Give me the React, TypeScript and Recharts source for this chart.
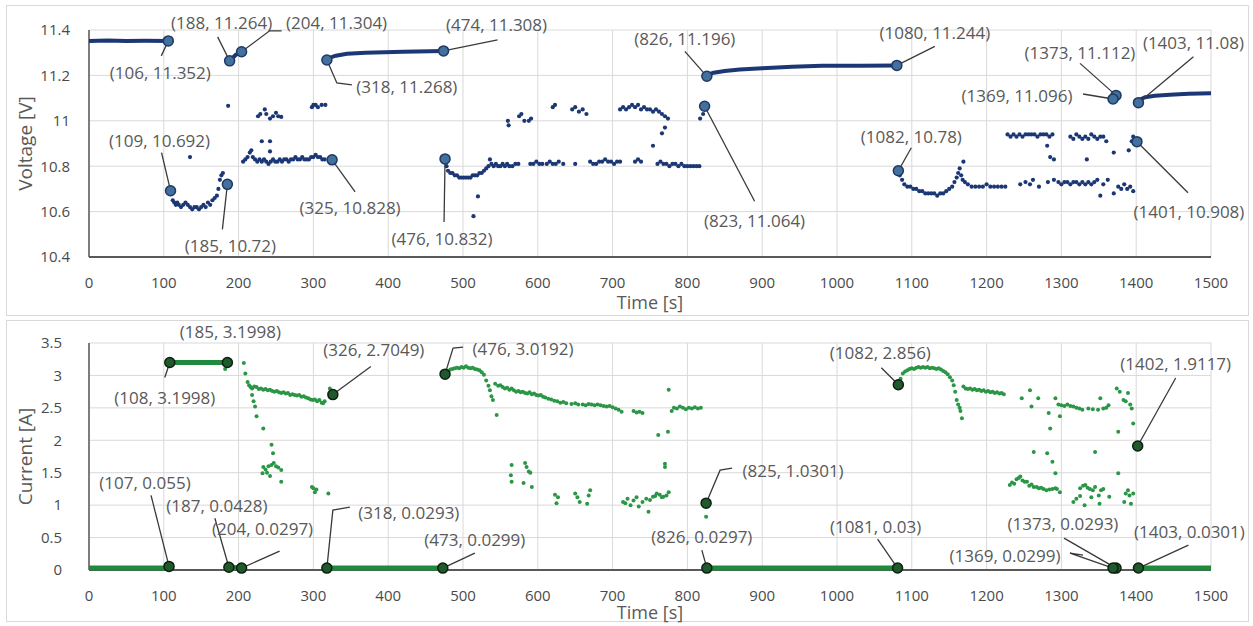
import React from 'react';
import { ScatterChart, Scatter, XAxis, YAxis, CartesianGrid } from 'recharts';

// ---------- ticks ----------
const TIME_TICKS = [0, 100, 200, 300, 400, 500, 600, 700, 800, 900, 1000, 1100, 1200, 1300, 1400, 1500];
const VOLT_TICKS = [10.4, 10.6, 10.8, 11, 11.2, 11.4];
const CURR_TICKS = [0, 0.5, 1, 1.5, 2, 2.5, 3, 3.5];

// ---------- voltage: rest (no-load) segments [t, V] ----------
const V_REST_A = [[0, 11.352], [25, 11.354], [50, 11.352], [75, 11.353], [106, 11.352]];
const V_REST_B = [[188, 11.264], [196, 11.29], [204, 11.304]];
const V_REST_C = [[318, 11.268], [322, 11.278], [330, 11.287], [345, 11.295], [370, 11.3], [420, 11.304], [474, 11.308]];
const V_REST_D = [[826, 11.196], [829, 11.205], [835, 11.212], [850, 11.219], [870, 11.226], [900, 11.232], [940, 11.238], [980, 11.242], [1030, 11.243], [1080, 11.244]];
const V_REST_E = [[1369, 11.096], [1373, 11.112]];
const V_REST_F = [[1403, 11.08], [1406, 11.095], [1412, 11.104], [1425, 11.11], [1445, 11.115], [1470, 11.119], [1500, 11.121]];

// ---------- voltage: load samples [t, V] ----------
const V_LOAD_1 = [
  [110, 10.68], [112, 10.65], [114, 10.64], [116, 10.63], [118, 10.64], [120, 10.63], [123, 10.62], [126, 10.63],
  [129, 10.64], [132, 10.63], [135, 10.62], [138, 10.61], [141, 10.62], [144, 10.62], [147, 10.61], [150, 10.62],
  [153, 10.63], [156, 10.62], [159, 10.64], [162, 10.63], [165, 10.65], [168, 10.66], [171, 10.67], [173, 10.7],
  [175, 10.74], [177, 10.76], [179, 10.77], [135, 10.84],
];
const V_LOAD_2 = [
  [206, 10.82], [209, 10.83], [212, 10.84], [215, 10.86], [217, 10.87], [219, 10.84], [222, 10.83], [225, 10.82],
  [228, 10.83], [231, 10.82], [234, 10.83], [237, 10.82], [240, 10.81], [243, 10.82], [246, 10.83], [249, 10.82],
  [252, 10.82], [255, 10.83], [258, 10.82], [261, 10.83], [264, 10.83], [267, 10.82], [270, 10.83], [273, 10.83],
  [276, 10.84], [279, 10.83], [282, 10.83], [285, 10.84], [288, 10.83], [291, 10.83], [294, 10.83], [297, 10.84],
  [300, 10.84], [303, 10.85], [306, 10.84], [309, 10.84], [312, 10.83], [315, 10.83],
  [186, 11.066], [226, 11.02], [229, 11.03], [235, 11.05], [237, 11.03], [242, 11.01], [246, 11.02], [250, 11.035],
  [253, 11.02], [257, 11.017], [231, 10.91], [242, 10.91], [242, 10.865],
  [298, 11.06], [300, 11.07], [303, 11.07], [306, 11.06], [311, 11.07], [316, 11.07],
];
const V_LOAD_3 = [
  [478, 10.8], [480, 10.78], [483, 10.77], [486, 10.77], [489, 10.76], [492, 10.76], [495, 10.75], [498, 10.75],
  [501, 10.75], [504, 10.75], [507, 10.75], [510, 10.75], [513, 10.76], [516, 10.76], [519, 10.76], [522, 10.77],
  [525, 10.77], [528, 10.78], [531, 10.79], [534, 10.8], [536, 10.83], [538, 10.81], [541, 10.8], [544, 10.81],
  [547, 10.8], [550, 10.8], [553, 10.81], [556, 10.8], [559, 10.81], [562, 10.8], [566, 10.8], [570, 10.81],
  [574, 10.81], [590, 10.81], [594, 10.81], [598, 10.82], [602, 10.81], [606, 10.81], [612, 10.81], [616, 10.82],
  [620, 10.81], [624, 10.81], [628, 10.82], [634, 10.81], [650, 10.81], [670, 10.82], [674, 10.81], [678, 10.81],
  [682, 10.82], [686, 10.82], [690, 10.83], [694, 10.82], [698, 10.82], [702, 10.81], [706, 10.82], [710, 10.82],
  [730, 10.82], [734, 10.83], [738, 10.82], [760, 10.81], [764, 10.82], [768, 10.81], [772, 10.81], [776, 10.8],
  [780, 10.81], [784, 10.81], [788, 10.8], [792, 10.81], [796, 10.8], [800, 10.8], [804, 10.8], [808, 10.8],
  [812, 10.8], [816, 10.8],
  [560, 11.0], [561, 10.98], [575, 11.02], [578, 11.03], [582, 11.0], [588, 11.0], [591, 11.01], [620, 11.06],
  [623, 11.07], [646, 11.05], [650, 11.06], [655, 11.04], [660, 11.05], [665, 11.03], [710, 11.05], [714, 11.06],
  [718, 11.05], [722, 11.06], [726, 11.07], [730, 11.06], [734, 11.07], [738, 11.05], [742, 11.06], [746, 11.05],
  [750, 11.05], [754, 11.04], [758, 11.05], [762, 11.04], [766, 11.03], [770, 11.02], [774, 11.01], [770, 10.97],
  [766, 10.945], [754, 10.89], [520, 10.667], [514, 10.58], [817, 11.01], [821, 11.03],
];
const V_LOAD_4 = [
  [1084, 10.76], [1087, 10.74], [1090, 10.72], [1094, 10.71], [1098, 10.71], [1102, 10.7], [1106, 10.7], [1110, 10.69],
  [1114, 10.69], [1118, 10.68], [1122, 10.68], [1126, 10.68], [1130, 10.68], [1134, 10.67], [1138, 10.68], [1142, 10.68],
  [1146, 10.69], [1150, 10.7], [1154, 10.71], [1157, 10.73], [1160, 10.75], [1162, 10.77], [1164, 10.79], [1166, 10.76],
  [1168, 10.74], [1171, 10.73], [1175, 10.72], [1180, 10.71], [1185, 10.71], [1190, 10.71], [1195, 10.71], [1200, 10.72],
  [1205, 10.71], [1210, 10.71], [1215, 10.71], [1220, 10.71], [1225, 10.71], [1245, 10.72], [1252, 10.73], [1258, 10.72],
  [1262, 10.74], [1270, 10.71], [1282, 10.73], [1290, 10.74], [1296, 10.73], [1300, 10.72], [1304, 10.73], [1308, 10.73],
  [1312, 10.72], [1316, 10.73], [1320, 10.73], [1324, 10.72], [1328, 10.73], [1332, 10.72], [1336, 10.73], [1340, 10.72],
  [1344, 10.73], [1348, 10.74], [1352, 10.67], [1356, 10.72], [1362, 10.74], [1370, 10.68], [1376, 10.71], [1380, 10.7],
  [1384, 10.72], [1388, 10.7], [1392, 10.71], [1396, 10.69], [1169, 10.82],
  [1228, 10.94], [1232, 10.93], [1236, 10.94], [1240, 10.93], [1244, 10.94], [1248, 10.93], [1252, 10.94], [1256, 10.94],
  [1260, 10.94], [1264, 10.94], [1268, 10.93], [1272, 10.94], [1276, 10.94], [1280, 10.94], [1284, 10.93], [1288, 10.94],
  [1281, 10.89], [1285, 10.84], [1290, 10.83], [1312, 10.93], [1316, 10.92], [1320, 10.94], [1324, 10.93], [1328, 10.92],
  [1332, 10.93], [1336, 10.92], [1340, 10.94], [1344, 10.93], [1348, 10.92], [1352, 10.93], [1356, 10.93], [1360, 10.91],
  [1334, 10.83], [1370, 10.86], [1390, 10.87], [1394, 10.91], [1396, 10.93], [1398, 10.9],
];

// ---------- current: rest segments [t, A] ----------
const I_REST_A = [[0, 0.03], [50, 0.03], [106, 0.03]];
const I_REST_B = [[108, 3.1998], [150, 3.1998], [185, 3.1998]];
const I_REST_C = [[187, 0.0428], [204, 0.0297]];
const I_REST_D = [[318, 0.0293], [400, 0.03], [473, 0.0299]];
const I_REST_E = [[826, 0.0297], [950, 0.03], [1081, 0.03]];
const I_REST_F = [[1369, 0.0299], [1373, 0.0293]];
const I_REST_G = [[1403, 0.0301], [1450, 0.03], [1500, 0.03]];

// ---------- current: load samples [t, A] ----------
const I_LOAD_1 = [
  [182, 3.1], [207, 3.19], [209, 3.03], [212, 2.9], [214, 2.85], [216, 2.82], [218, 2.8], [221, 2.83], [224, 2.82],
  [227, 2.79], [230, 2.8], [233, 2.78], [236, 2.79], [239, 2.77], [242, 2.78], [245, 2.76], [248, 2.75], [251, 2.76],
  [254, 2.74], [257, 2.73], [260, 2.74], [263, 2.72], [266, 2.73], [269, 2.7], [272, 2.71], [275, 2.7], [278, 2.69],
  [281, 2.7], [284, 2.67], [287, 2.68], [290, 2.66], [293, 2.65], [296, 2.63], [299, 2.62], [302, 2.63], [305, 2.6],
  [308, 2.62], [311, 2.58], [313, 2.57], [315, 2.6], [322, 2.8],
  [218, 2.7], [220, 2.6], [222, 2.52], [224, 2.37], [233, 2.18], [244, 1.93], [246, 1.8], [232, 1.49], [233, 1.59],
  [236, 1.55], [240, 1.6], [244, 1.62], [247, 1.65], [250, 1.6], [253, 1.58], [257, 1.54], [257, 1.36], [242, 1.45],
  [238, 1.5], [300, 1.26], [302, 1.2], [298, 1.28], [304, 1.24], [320, 1.18],
];
const I_LOAD_2 = [
  [480, 3.06], [483, 3.09], [486, 3.1], [489, 3.11], [492, 3.12], [495, 3.11], [498, 3.13], [501, 3.12], [504, 3.14],
  [507, 3.12], [510, 3.11], [513, 3.12], [516, 3.1], [519, 3.09], [522, 3.08], [525, 3.05], [528, 3.01], [531, 2.92],
  [534, 2.84], [536, 2.77], [538, 2.68], [540, 2.62], [545, 2.39], [543, 2.87], [547, 2.84], [550, 2.85], [553, 2.82],
  [556, 2.8], [559, 2.81], [562, 2.78], [565, 2.8], [568, 2.77], [571, 2.75], [574, 2.76], [577, 2.74], [580, 2.75],
  [583, 2.73], [586, 2.72], [589, 2.74], [592, 2.71], [595, 2.72], [598, 2.7], [601, 2.69], [604, 2.7], [607, 2.67],
  [610, 2.66], [614, 2.64], [618, 2.63], [622, 2.61], [626, 2.6], [630, 2.58], [634, 2.59], [638, 2.57], [645, 2.56],
  [650, 2.57], [654, 2.55], [660, 2.55], [664, 2.54], [668, 2.56], [672, 2.55], [676, 2.54], [680, 2.55], [684, 2.54],
  [688, 2.53], [692, 2.52], [696, 2.53], [700, 2.51], [704, 2.49], [708, 2.47], [712, 2.44], [728, 2.45], [732, 2.43],
  [736, 2.44], [740, 2.42], [761, 2.08], [774, 2.13], [775, 2.78], [779, 2.45], [782, 2.5], [786, 2.49], [790, 2.52],
  [794, 2.5], [798, 2.48], [802, 2.5], [806, 2.49], [810, 2.51], [814, 2.49], [818, 2.5],
  [565, 1.62], [564, 1.46], [565, 1.36], [583, 1.65], [585, 1.59], [588, 1.52], [590, 1.5], [581, 1.34], [592, 1.28],
  [623, 1.16], [625, 1.03], [627, 1.12], [650, 1.18], [653, 1.12], [656, 1.05], [666, 1.02], [668, 1.15], [670, 1.23],
  [714, 1.05], [717, 1.03], [720, 1.1], [724, 1.0], [728, 1.07], [732, 1.12], [735, 0.98], [740, 1.05], [745, 1.1],
  [748, 0.9], [750, 1.08], [754, 1.13], [757, 1.14], [759, 1.18], [763, 1.16], [766, 1.12], [768, 1.13], [772, 1.15],
  [775, 1.2], [770, 1.64], [770, 1.59], [825, 0.82],
];
const I_LOAD_3 = [
  [1085, 2.95], [1088, 3.03], [1091, 3.06], [1094, 3.08], [1097, 3.1], [1100, 3.11], [1103, 3.1], [1106, 3.12],
  [1109, 3.13], [1112, 3.12], [1115, 3.13], [1118, 3.12], [1121, 3.13], [1124, 3.11], [1127, 3.12], [1130, 3.11],
  [1133, 3.1], [1136, 3.11], [1139, 3.09], [1142, 3.07], [1145, 3.05], [1148, 3.02], [1151, 2.97], [1154, 2.92],
  [1156, 2.85], [1158, 2.75], [1160, 2.62], [1162, 2.55], [1164, 2.5], [1165, 2.45], [1167, 2.34], [1169, 2.83],
  [1172, 2.8], [1175, 2.79], [1178, 2.8], [1181, 2.78], [1184, 2.79], [1187, 2.77], [1190, 2.78], [1193, 2.76],
  [1196, 2.77], [1199, 2.75], [1202, 2.76], [1205, 2.74], [1208, 2.75], [1211, 2.73], [1214, 2.74], [1217, 2.72],
  [1220, 2.73], [1223, 2.71], [1247, 2.65], [1258, 2.77], [1260, 2.52], [1269, 2.65], [1283, 2.42], [1285, 2.18],
  [1292, 2.65], [1298, 2.37], [1296, 2.55], [1300, 2.54], [1304, 2.53], [1308, 2.55], [1312, 2.53], [1316, 2.52],
  [1320, 2.5], [1324, 2.49], [1328, 2.47], [1336, 2.49], [1342, 2.48], [1349, 2.47], [1352, 2.65], [1356, 2.49],
  [1360, 2.5], [1363, 2.54], [1374, 2.8], [1376, 2.13], [1378, 2.75], [1383, 2.62], [1386, 2.6], [1389, 2.73],
  [1392, 2.55], [1394, 2.49], [1396, 2.26],
  [1263, 1.82], [1281, 1.8], [1288, 1.67], [1292, 1.49], [1231, 1.31], [1234, 1.35], [1237, 1.33], [1240, 1.4],
  [1243, 1.42], [1245, 1.44], [1248, 1.38], [1251, 1.36], [1254, 1.36], [1257, 1.3], [1260, 1.32], [1263, 1.28],
  [1267, 1.28], [1270, 1.26], [1273, 1.27], [1276, 1.25], [1280, 1.23], [1284, 1.24], [1288, 1.25], [1292, 1.26],
  [1294, 1.25], [1298, 1.2], [1325, 1.26], [1329, 1.3], [1332, 1.31], [1335, 1.27], [1338, 1.25], [1342, 1.23],
  [1345, 1.28], [1350, 1.15], [1353, 1.23], [1356, 1.25], [1316, 1.05], [1320, 1.1], [1325, 1.14], [1331, 1.0],
  [1340, 1.12], [1351, 1.02], [1364, 1.13], [1384, 1.05], [1386, 1.18], [1389, 1.23], [1391, 1.15], [1393, 1.02],
  [1396, 1.18], [1345, 1.82], [1376, 1.49],
];

// ---------- annotated points ----------
const V_NOTES = [
  [106, 11.352], [109, 10.692], [185, 10.72], [188, 11.264], [204, 11.304], [318, 11.268], [325, 10.828],
  [474, 11.308], [476, 10.832], [826, 11.196], [823, 11.064], [1080, 11.244], [1082, 10.78], [1373, 11.112],
  [1369, 11.096], [1403, 11.08], [1401, 10.908],
];
const I_NOTES = [
  [108, 3.1998], [185, 3.1998], [326, 2.7049], [107, 0.055], [187, 0.0428], [204, 0.0297], [318, 0.0293],
  [473, 0.0299], [476, 3.0192], [825, 1.0301], [826, 0.0297], [1081, 0.03], [1082, 2.856], [1402, 1.9117],
  [1373, 0.0293], [1369, 0.0299], [1403, 0.0301],
];

// label placement (pixel offsets from the marker) — layout only
const V_NOTE_LAYOUT: any = {
  106: { dx: -8, dy: 32, leader: [[-7, 15]] },
  109: { dx: -11, dy: -50, leader: [[-9, -38]] },
  185: { dx: 3, dy: 61, leader: [[-5, 45]] },
  188: { dx: -8, dy: -38, leader: [[-12, -24]] },
  204: { dx: 95, dy: -29, leader: [[28, -21], [40, -21]] },
  318: { dx: 80, dy: 27, leader: [[10, 23], [25, 25]] },
  325: { dx: 18, dy: 48, leader: [[23, 32]] },
  474: { dx: 53, dy: -26, leader: [[54, -11]] },
  476: { dx: -3, dy: 80, leader: [[-1, 63]] },
  826: { dx: -22, dy: -38, leader: [[-22, -25]] },
  823: { dx: 50, dy: 114, leader: [[50, 95]] },
  1080: { dx: 38, dy: -33, leader: [[38, -19]] },
  1082: { dx: 13, dy: -34, leader: [[13, -23]] },
  1373: { dx: -36, dy: -43, leader: [[-36, -32]] },
  1369: { dx: -96, dy: -4, leader: [[-30, -5]] },
  1403: { dx: 55, dy: -60, leader: [[55, -46]] },
  1401: { dx: 52, dy: 70, leader: [[51, 51]] },
};
const I_NOTE_LAYOUT: any = {
  108: { dx: -5, dy: 35, leader: [[-5, 15]] },
  185: { dx: 3, dy: -31, leader: [] },
  326: { dx: 41, dy: -45, leader: [[38, -28]] },
  107: { dx: -24, dy: -84, leader: [[-18, -71]] },
  187: { dx: -12, dy: -62, leader: [[-14, -49]] },
  204: { dx: 21, dy: -40, leader: [[38, -17]] },
  318: { dx: 82, dy: -56, leader: [[6, -58], [23, -61]] },
  473: { dx: 32, dy: -29, leader: [[32, -15]] },
  476: { dx: 78, dy: -26, leader: [[8, -26], [18, -27]] },
  825: { dx: 87, dy: -33, leader: [[14, -33], [26, -35]] },
  826: { dx: -5, dy: -32, leader: [[-5, -18]] },
  1081: { dx: -22, dy: -42, leader: [[-20, -29]] },
  1082: { dx: -18, dy: -32, leader: [[-17, -17]] },
  1402: { dx: 38, dy: -83, leader: [[38, -68]] },
  1373: { dx: -53, dy: -45, leader: [[-52, -30]] },
  1369: { dx: -108, dy: -13, leader: [[-43, -15], [-30, -13]] },
  1403: { dx: 51, dy: -37, leader: [[50, -23]] },
};

// ---------- styles ----------
const FONT = '"Open Sans", "Liberation Sans", sans-serif';
const TEXT = '#595959';
const TICK_TEXT = '#4a4a4a';
const GRID = '#d9d9d9';
const AXIS = '#595959';
const NAVY = '#1c3775';
const GREEN = '#2a9646';
const GREEN_LINE = '#1f8a3c';

const toPts = (arr: number[][]) => arr.map(([x, y]) => ({ x, y }));

const dot = (color: string, r: number) => (p: any) =>
  p.cx == null ? <g /> : <circle cx={p.cx} cy={p.cy} r={r} fill={color} />;
const none = () => <g />;

const noteShape = (layout: any, fill: string, stroke: string) => (p: any) => {
  const { cx, cy, payload } = p;
  if (cx == null) return <g />;
  const L = layout[payload.x];
  const pts = [[cx, cy], ...L.leader.map(([a, b]: number[]) => [cx + a, cy + b])];
  return (
    <g>
      {L.leader.length > 0 && (
        <polyline points={pts.map((q) => q.join(',')).join(' ')} fill="none" stroke="#3a3a3a" strokeWidth={1.3} />
      )}
      <circle cx={cx} cy={cy} r={5} fill={fill} stroke={stroke} strokeWidth={1.5} />
      <text x={cx + L.dx} y={cy + L.dy} textAnchor="middle" dominantBaseline="central" fontSize={17}
        fill={TEXT} fontFamily={FONT}>{`(${payload.x}, ${payload.y})`}</text>
    </g>
  );
};

const yTitle = (text: string) => (props: any) => {
  const vb = props.viewBox;
  const x = vb.x - 4;
  const y = vb.y + vb.height / 2;
  return (
    <text x={x} y={y} transform={`rotate(-90, ${x}, ${y})`} textAnchor="middle" dominantBaseline="central"
      fontSize={19} fill={TEXT} fontFamily={FONT}>{text}</text>
  );
};
const xTitle = (text: string, dy: number) => (props: any) => {
  const vb = props.viewBox;
  return (
    <text x={vb.x + vb.width / 2} y={vb.y + dy} textAnchor="middle" dominantBaseline="central"
      fontSize={18} fill={TEXT} fontFamily={FONT}>{text}</text>
  );
};

const tickStyle = { fill: TICK_TEXT, fontSize: 15, fontFamily: FONT };

function Panel({ top, height }: { top: number; height: number }) {
  return (
    <div style={{ position: 'absolute', left: 6, top, width: 1243, height, border: `1px solid ${GRID}`, boxSizing: 'border-box' }} />
  );
}

export default function App() {
  return (
    <div style={{ position: 'absolute', left: 0, top: 0, width: 1253, height: 626, background: '#fff', fontFamily: FONT, overflow: 'hidden' }}>
      <Panel top={5} height={311} />
      <Panel top={320} height={302} />
      <div style={{ position: 'absolute', left: 0, top: 0 }}>
        <ScatterChart width={1253} height={316} margin={{ top: 30, right: 42, left: 29, bottom: 19 }}>
          <CartesianGrid stroke={GRID} strokeWidth={1} />
          <XAxis type="number" dataKey="x" domain={[0, 1500]} ticks={TIME_TICKS} interval={0} tickLine={false}
            tickSize={6} tickMargin={14} height={40} axisLine={{ stroke: AXIS, strokeWidth: 2 }} tick={tickStyle}
            label={{ content: xTitle('Time [s]', 45) }} />
          <YAxis type="number" dataKey="y" domain={[10.4, 11.4]} ticks={VOLT_TICKS} interval={0} tickLine={false}
            tickSize={6} tickMargin={13} width={60} axisLine={{ stroke: AXIS, strokeWidth: 1.5 }} tick={tickStyle}
            label={{ content: yTitle('Voltage [V]') }} />
          {[V_REST_A, V_REST_B, V_REST_C, V_REST_D, V_REST_E, V_REST_F].map((s, i) => (
            <Scatter key={'vr' + i} data={toPts(s)} fill={NAVY} line={{ stroke: NAVY, strokeWidth: 4 }}
              lineType="joint" shape={none} isAnimationActive={false} />
          ))}
          {[V_LOAD_1, V_LOAD_2, V_LOAD_3, V_LOAD_4].map((s, i) => (
            <Scatter key={'vl' + i} data={toPts(s)} fill={NAVY} shape={dot(NAVY, 2.1)} isAnimationActive={false} />
          ))}
          <Scatter data={toPts(V_NOTES)} fill="#41719c" shape={noteShape(V_NOTE_LAYOUT, '#41719c', '#1f3864')}
            isAnimationActive={false} />
        </ScatterChart>
      </div>
      <div style={{ position: 'absolute', left: 0, top: 313 }}>
        <ScatterChart width={1253} height={313} margin={{ top: 30, right: 42, left: 29, bottom: 16 }}>
          <CartesianGrid stroke={GRID} strokeWidth={1} />
          <XAxis type="number" dataKey="x" domain={[0, 1500]} ticks={TIME_TICKS} interval={0} tickLine={false}
            tickSize={6} tickMargin={14} height={40} axisLine={{ stroke: AXIS, strokeWidth: 2 }} tick={tickStyle}
            label={{ content: xTitle('Time [s]', 42) }} />
          <YAxis type="number" dataKey="y" domain={[0, 3.5]} ticks={CURR_TICKS} interval={0} tickLine={false}
            tickSize={6} tickMargin={21} width={60} axisLine={{ stroke: AXIS, strokeWidth: 1.5 }} tick={tickStyle}
            label={{ content: yTitle('Current [A]') }} />
          {[I_REST_A, I_REST_B, I_REST_C, I_REST_D, I_REST_E, I_REST_F, I_REST_G].map((s, i) => (
            <Scatter key={'ir' + i} data={toPts(s)} fill={GREEN_LINE} line={{ stroke: GREEN_LINE, strokeWidth: 5 }}
              lineType="joint" shape={none} isAnimationActive={false} />
          ))}
          {[I_LOAD_1, I_LOAD_2, I_LOAD_3].map((s, i) => (
            <Scatter key={'il' + i} data={toPts(s)} fill={GREEN} shape={dot(GREEN, 2)} isAnimationActive={false} />
          ))}
          <Scatter data={toPts(I_NOTES)} fill="#1f5a2c" shape={noteShape(I_NOTE_LAYOUT, '#1f5a2c', '#0d1f10')}
            isAnimationActive={false} />
        </ScatterChart>
      </div>
    </div>
  );
}
